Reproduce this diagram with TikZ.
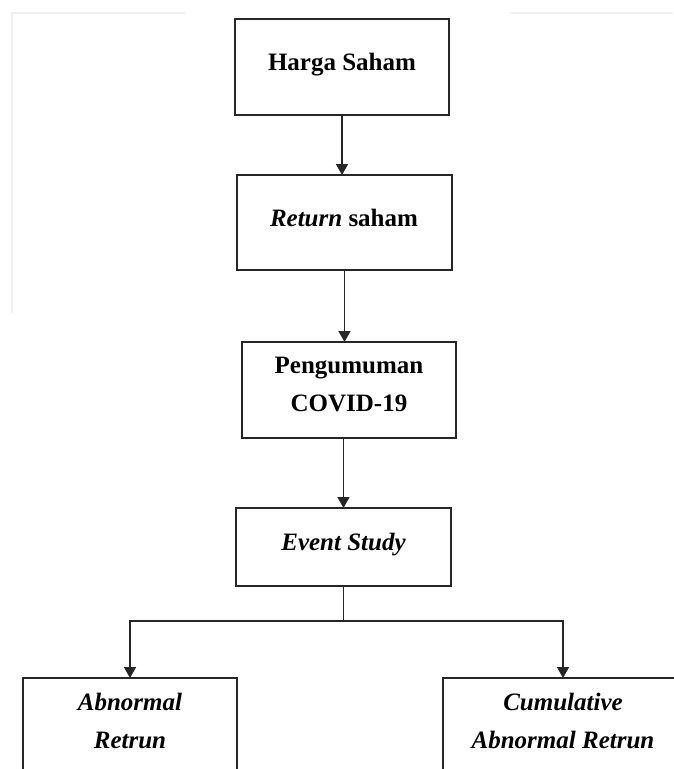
\documentclass[tikz,border=0pt]{standalone}
\usepackage{fontspec}
\setmainfont{Liberation Serif}
\usetikzlibrary{arrows.meta}

\begin{document}
\begin{tikzpicture}[x=1pt,y=-1pt,
  box/.style={draw=black!85,line width=1.5pt,minimum height=96pt,inner sep=0pt,outer sep=0pt},
  txt/.style={inner sep=0pt,outer sep=0pt,align=center,font=\bfseries\fontsize{25}{38}\selectfont},
  txtit/.style={txt,font=\bfseries\itshape\fontsize{25}{38}\selectfont},
  link/.style={draw=black!85,line width=1.5pt},
  arr/.style={link,-{Triangle[length=11pt,width=12pt]}},
  edgeshade/.style={draw=black!6,line width=2pt}]
\path[use as bounding box,fill=white] (0,0) rectangle (673,769);
\draw[edgeshade] (12,313) -- (12,13) -- (185,13);
\draw[edgeshade] (510,13) -- (673,13);
\node[box,minimum width=214pt] (harga) at (342,67) {};
\node[txt] (harga-txt) at (342,65) {Harga Saham};
\node[box,minimum width=215pt,minimum height=95pt] (return) at (344.5,222.5) {};
\node[txt] (return-txt) at (344,218) {\textit{Return} saham};
\node[box,minimum width=214pt] (umum) at (349,390) {};
\node[txt] (umum-txt) at (349,384) {Pengumuman\\COVID-19};
\node[box,minimum width=215pt,minimum height=78pt] (event) at (343.5,547) {};
\node[txtit] (event-txt) at (343.5,545) {Event Study};
\node[box,minimum width=214pt] (abn) at (130,726) {};
\node[txtit] (abn-txt) at (130,721) {Abnormal\\Retrun};
\node[box,minimum width=240pt] (cum) at (563,726) {};
\node[txtit] (cum-txt) at (563,721) {Cumulative\\Abnormal Retrun};
\draw[arr] (harga.south) -- (harga.south |- return.north);
\draw[arr] (return.south) -- (return.south |- umum.north);
\draw[arr] (event.north |- umum.south) -- (event.north);
\draw[link] (event.south) -- ++(0,35) coordinate (fork);
\draw[arr] (fork) -| (abn.north);
\draw[arr] (fork) -| (cum.north);
\end{tikzpicture}
\end{document}
